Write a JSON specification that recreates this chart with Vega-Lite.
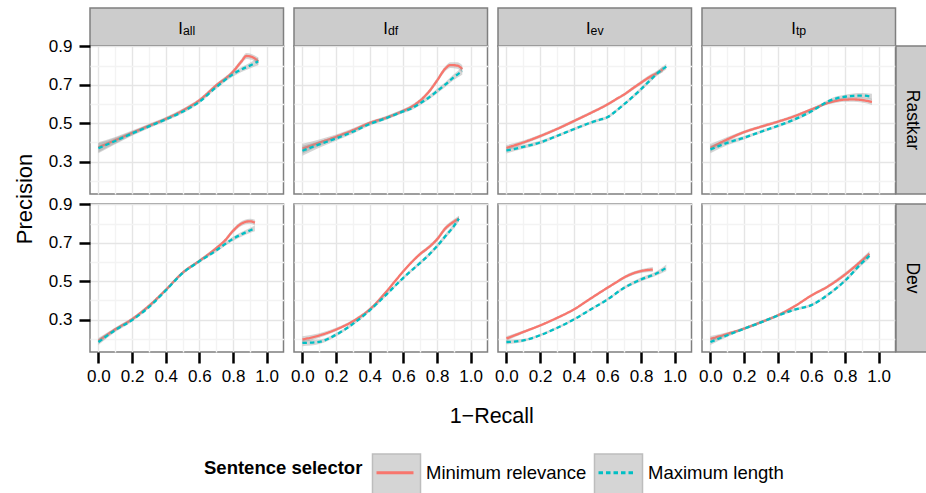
{
  "$schema": "https://vega.github.io/schema/vega-lite/v6.json",
  "padding": {"left": 10, "top": 7, "right": 0, "bottom": 0},
  "config": {
    "font": "Liberation Sans",
    "view": {"stroke": null},
    "axis": {"domain": false, "labelFont": "Liberation Sans", "labelFontSize": 17, "labelColor": "#000000", "tickColor": "#000000", "tickSize": 11, "tickWidth": 2.5, "gridWidth": 1.4, "labelOverlap": false, "labelFlush": false},
    "axisX": {"labelPadding": 5},
    "axisY": {"labelPadding": 7},
    "text": {"color": "#000000", "font": "Liberation Sans"},
    "legend": {"orient": "none", "direction": "horizontal", "titleOrient": "left", "titleAnchor": "middle", "titleBaseline": "middle", "titleFont": "Liberation Sans", "labelFont": "Liberation Sans", "titleFontSize": 18.5, "titleFontWeight": "bold", "titleColor": "#000000", "labelColor": "#000000", "labelFontSize": 18.5, "labelLimit": 400, "titleLimit": 400, "titlePadding": 12}
  },
  "datasets": {
    "R_all": [
      {"sel":"Minimum relevance","x":0,"y":0.375,"lo":0.349,"hi":0.401},
      {"sel":"Minimum relevance","x":0.1,"y":0.412,"lo":0.395,"hi":0.429},
      {"sel":"Minimum relevance","x":0.2,"y":0.450,"lo":0.438,"hi":0.462},
      {"sel":"Minimum relevance","x":0.3,"y":0.487,"lo":0.477,"hi":0.497},
      {"sel":"Minimum relevance","x":0.4,"y":0.523,"lo":0.514,"hi":0.532},
      {"sel":"Minimum relevance","x":0.5,"y":0.566,"lo":0.557,"hi":0.575},
      {"sel":"Minimum relevance","x":0.6,"y":0.620,"lo":0.611,"hi":0.629},
      {"sel":"Minimum relevance","x":0.7,"y":0.697,"lo":0.687,"hi":0.707},
      {"sel":"Minimum relevance","x":0.8,"y":0.768,"lo":0.756,"hi":0.780},
      {"sel":"Minimum relevance","x":0.85,"y":0.822,"lo":0.809,"hi":0.835},
      {"sel":"Minimum relevance","x":0.88,"y":0.850,"lo":0.835,"hi":0.865},
      {"sel":"Minimum relevance","x":0.91,"y":0.846,"lo":0.831,"hi":0.861},
      {"sel":"Minimum relevance","x":0.95,"y":0.822,"lo":0.802,"hi":0.842},
      {"sel":"Maximum length","x":0,"y":0.370,"lo":0.344,"hi":0.396},
      {"sel":"Maximum length","x":0.1,"y":0.408,"lo":0.391,"hi":0.425},
      {"sel":"Maximum length","x":0.2,"y":0.447,"lo":0.435,"hi":0.459},
      {"sel":"Maximum length","x":0.3,"y":0.484,"lo":0.474,"hi":0.494},
      {"sel":"Maximum length","x":0.4,"y":0.520,"lo":0.511,"hi":0.529},
      {"sel":"Maximum length","x":0.5,"y":0.560,"lo":0.551,"hi":0.569},
      {"sel":"Maximum length","x":0.6,"y":0.612,"lo":0.603,"hi":0.621},
      {"sel":"Maximum length","x":0.7,"y":0.688,"lo":0.678,"hi":0.698},
      {"sel":"Maximum length","x":0.8,"y":0.755,"lo":0.743,"hi":0.767},
      {"sel":"Maximum length","x":0.85,"y":0.780,"lo":0.767,"hi":0.793},
      {"sel":"Maximum length","x":0.9,"y":0.800,"lo":0.785,"hi":0.815},
      {"sel":"Maximum length","x":0.95,"y":0.822,"lo":0.802,"hi":0.842}
    ],
    "R_df": [
      {"sel":"Minimum relevance","x":0,"y":0.368,"lo":0.342,"hi":0.394},
      {"sel":"Minimum relevance","x":0.1,"y":0.399,"lo":0.382,"hi":0.416},
      {"sel":"Minimum relevance","x":0.2,"y":0.430,"lo":0.418,"hi":0.442},
      {"sel":"Minimum relevance","x":0.3,"y":0.464,"lo":0.454,"hi":0.474},
      {"sel":"Minimum relevance","x":0.4,"y":0.502,"lo":0.493,"hi":0.511},
      {"sel":"Minimum relevance","x":0.5,"y":0.530,"lo":0.521,"hi":0.539},
      {"sel":"Minimum relevance","x":0.6,"y":0.565,"lo":0.556,"hi":0.574},
      {"sel":"Minimum relevance","x":0.65,"y":0.587,"lo":0.578,"hi":0.596},
      {"sel":"Minimum relevance","x":0.7,"y":0.618,"lo":0.608,"hi":0.628},
      {"sel":"Minimum relevance","x":0.75,"y":0.662,"lo":0.651,"hi":0.673},
      {"sel":"Minimum relevance","x":0.8,"y":0.722,"lo":0.710,"hi":0.734},
      {"sel":"Minimum relevance","x":0.85,"y":0.785,"lo":0.772,"hi":0.798},
      {"sel":"Minimum relevance","x":0.88,"y":0.803,"lo":0.788,"hi":0.818},
      {"sel":"Minimum relevance","x":0.92,"y":0.800,"lo":0.783,"hi":0.817},
      {"sel":"Minimum relevance","x":0.95,"y":0.782,"lo":0.762,"hi":0.802},
      {"sel":"Maximum length","x":0,"y":0.357,"lo":0.331,"hi":0.383},
      {"sel":"Maximum length","x":0.1,"y":0.390,"lo":0.373,"hi":0.407},
      {"sel":"Maximum length","x":0.2,"y":0.421,"lo":0.409,"hi":0.433},
      {"sel":"Maximum length","x":0.3,"y":0.456,"lo":0.446,"hi":0.466},
      {"sel":"Maximum length","x":0.4,"y":0.496,"lo":0.487,"hi":0.505},
      {"sel":"Maximum length","x":0.5,"y":0.527,"lo":0.518,"hi":0.536},
      {"sel":"Maximum length","x":0.6,"y":0.562,"lo":0.553,"hi":0.571},
      {"sel":"Maximum length","x":0.65,"y":0.578,"lo":0.569,"hi":0.587},
      {"sel":"Maximum length","x":0.7,"y":0.604,"lo":0.594,"hi":0.614},
      {"sel":"Maximum length","x":0.75,"y":0.633,"lo":0.622,"hi":0.644},
      {"sel":"Maximum length","x":0.8,"y":0.667,"lo":0.655,"hi":0.679},
      {"sel":"Maximum length","x":0.85,"y":0.702,"lo":0.689,"hi":0.715},
      {"sel":"Maximum length","x":0.9,"y":0.740,"lo":0.725,"hi":0.755},
      {"sel":"Maximum length","x":0.95,"y":0.772,"lo":0.752,"hi":0.792}
    ],
    "R_ev": [
      {"sel":"Minimum relevance","x":0,"y":0.372,"lo":0.357,"hi":0.387},
      {"sel":"Minimum relevance","x":0.1,"y":0.400,"lo":0.390,"hi":0.410},
      {"sel":"Minimum relevance","x":0.2,"y":0.433,"lo":0.424,"hi":0.442},
      {"sel":"Minimum relevance","x":0.3,"y":0.470,"lo":0.462,"hi":0.478},
      {"sel":"Minimum relevance","x":0.4,"y":0.511,"lo":0.503,"hi":0.519},
      {"sel":"Minimum relevance","x":0.5,"y":0.553,"lo":0.545,"hi":0.561},
      {"sel":"Minimum relevance","x":0.6,"y":0.598,"lo":0.590,"hi":0.606},
      {"sel":"Minimum relevance","x":0.65,"y":0.624,"lo":0.616,"hi":0.632},
      {"sel":"Minimum relevance","x":0.7,"y":0.650,"lo":0.642,"hi":0.658},
      {"sel":"Minimum relevance","x":0.75,"y":0.681,"lo":0.672,"hi":0.690},
      {"sel":"Minimum relevance","x":0.8,"y":0.711,"lo":0.701,"hi":0.721},
      {"sel":"Minimum relevance","x":0.85,"y":0.740,"lo":0.729,"hi":0.751},
      {"sel":"Minimum relevance","x":0.9,"y":0.764,"lo":0.752,"hi":0.776},
      {"sel":"Minimum relevance","x":0.93,"y":0.780,"lo":0.765,"hi":0.795},
      {"sel":"Maximum length","x":0,"y":0.358,"lo":0.343,"hi":0.373},
      {"sel":"Maximum length","x":0.1,"y":0.377,"lo":0.367,"hi":0.387},
      {"sel":"Maximum length","x":0.2,"y":0.400,"lo":0.391,"hi":0.409},
      {"sel":"Maximum length","x":0.3,"y":0.434,"lo":0.426,"hi":0.442},
      {"sel":"Maximum length","x":0.4,"y":0.469,"lo":0.461,"hi":0.477},
      {"sel":"Maximum length","x":0.5,"y":0.503,"lo":0.495,"hi":0.511},
      {"sel":"Maximum length","x":0.55,"y":0.517,"lo":0.509,"hi":0.525},
      {"sel":"Maximum length","x":0.6,"y":0.531,"lo":0.523,"hi":0.539},
      {"sel":"Maximum length","x":0.65,"y":0.563,"lo":0.555,"hi":0.571},
      {"sel":"Maximum length","x":0.7,"y":0.599,"lo":0.591,"hi":0.607},
      {"sel":"Maximum length","x":0.75,"y":0.637,"lo":0.628,"hi":0.646},
      {"sel":"Maximum length","x":0.8,"y":0.677,"lo":0.667,"hi":0.687},
      {"sel":"Maximum length","x":0.85,"y":0.720,"lo":0.709,"hi":0.731},
      {"sel":"Maximum length","x":0.9,"y":0.762,"lo":0.750,"hi":0.774},
      {"sel":"Maximum length","x":0.95,"y":0.795,"lo":0.780,"hi":0.810}
    ],
    "R_tp": [
      {"sel":"Minimum relevance","x":0,"y":0.372,"lo":0.352,"hi":0.392},
      {"sel":"Minimum relevance","x":0.1,"y":0.416,"lo":0.404,"hi":0.428},
      {"sel":"Minimum relevance","x":0.2,"y":0.454,"lo":0.445,"hi":0.463},
      {"sel":"Minimum relevance","x":0.3,"y":0.482,"lo":0.474,"hi":0.490},
      {"sel":"Minimum relevance","x":0.4,"y":0.508,"lo":0.500,"hi":0.516},
      {"sel":"Minimum relevance","x":0.5,"y":0.537,"lo":0.529,"hi":0.545},
      {"sel":"Minimum relevance","x":0.6,"y":0.572,"lo":0.564,"hi":0.580},
      {"sel":"Minimum relevance","x":0.7,"y":0.606,"lo":0.597,"hi":0.615},
      {"sel":"Minimum relevance","x":0.75,"y":0.617,"lo":0.607,"hi":0.627},
      {"sel":"Minimum relevance","x":0.8,"y":0.623,"lo":0.612,"hi":0.634},
      {"sel":"Minimum relevance","x":0.85,"y":0.624,"lo":0.612,"hi":0.636},
      {"sel":"Minimum relevance","x":0.9,"y":0.621,"lo":0.608,"hi":0.634},
      {"sel":"Minimum relevance","x":0.96,"y":0.611,"lo":0.595,"hi":0.627},
      {"sel":"Maximum length","x":0,"y":0.364,"lo":0.344,"hi":0.384},
      {"sel":"Maximum length","x":0.1,"y":0.398,"lo":0.386,"hi":0.410},
      {"sel":"Maximum length","x":0.2,"y":0.425,"lo":0.416,"hi":0.434},
      {"sel":"Maximum length","x":0.3,"y":0.456,"lo":0.448,"hi":0.464},
      {"sel":"Maximum length","x":0.4,"y":0.486,"lo":0.478,"hi":0.494},
      {"sel":"Maximum length","x":0.5,"y":0.520,"lo":0.512,"hi":0.528},
      {"sel":"Maximum length","x":0.6,"y":0.562,"lo":0.554,"hi":0.570},
      {"sel":"Maximum length","x":0.7,"y":0.614,"lo":0.605,"hi":0.623},
      {"sel":"Maximum length","x":0.75,"y":0.630,"lo":0.620,"hi":0.640},
      {"sel":"Maximum length","x":0.8,"y":0.638,"lo":0.627,"hi":0.649},
      {"sel":"Maximum length","x":0.85,"y":0.643,"lo":0.631,"hi":0.655},
      {"sel":"Maximum length","x":0.9,"y":0.644,"lo":0.631,"hi":0.657},
      {"sel":"Maximum length","x":0.96,"y":0.638,"lo":0.622,"hi":0.654}
    ],
    "D_all": [
      {"sel":"Minimum relevance","x":0,"y":0.190,"lo":0.175,"hi":0.205},
      {"sel":"Minimum relevance","x":0.1,"y":0.250,"lo":0.240,"hi":0.260},
      {"sel":"Minimum relevance","x":0.2,"y":0.303,"lo":0.295,"hi":0.311},
      {"sel":"Minimum relevance","x":0.3,"y":0.372,"lo":0.364,"hi":0.380},
      {"sel":"Minimum relevance","x":0.4,"y":0.455,"lo":0.447,"hi":0.463},
      {"sel":"Minimum relevance","x":0.5,"y":0.544,"lo":0.536,"hi":0.552},
      {"sel":"Minimum relevance","x":0.6,"y":0.606,"lo":0.598,"hi":0.614},
      {"sel":"Minimum relevance","x":0.7,"y":0.672,"lo":0.663,"hi":0.681},
      {"sel":"Minimum relevance","x":0.75,"y":0.710,"lo":0.700,"hi":0.720},
      {"sel":"Minimum relevance","x":0.8,"y":0.762,"lo":0.751,"hi":0.773},
      {"sel":"Minimum relevance","x":0.85,"y":0.800,"lo":0.788,"hi":0.812},
      {"sel":"Minimum relevance","x":0.9,"y":0.812,"lo":0.799,"hi":0.825},
      {"sel":"Minimum relevance","x":0.93,"y":0.805,"lo":0.790,"hi":0.820},
      {"sel":"Maximum length","x":0,"y":0.184,"lo":0.169,"hi":0.199},
      {"sel":"Maximum length","x":0.1,"y":0.246,"lo":0.236,"hi":0.256},
      {"sel":"Maximum length","x":0.2,"y":0.298,"lo":0.290,"hi":0.306},
      {"sel":"Maximum length","x":0.3,"y":0.366,"lo":0.358,"hi":0.374},
      {"sel":"Maximum length","x":0.4,"y":0.452,"lo":0.444,"hi":0.460},
      {"sel":"Maximum length","x":0.5,"y":0.542,"lo":0.534,"hi":0.550},
      {"sel":"Maximum length","x":0.6,"y":0.604,"lo":0.596,"hi":0.612},
      {"sel":"Maximum length","x":0.7,"y":0.660,"lo":0.651,"hi":0.669},
      {"sel":"Maximum length","x":0.75,"y":0.692,"lo":0.682,"hi":0.702},
      {"sel":"Maximum length","x":0.8,"y":0.721,"lo":0.710,"hi":0.732},
      {"sel":"Maximum length","x":0.85,"y":0.744,"lo":0.732,"hi":0.756},
      {"sel":"Maximum length","x":0.9,"y":0.764,"lo":0.751,"hi":0.777},
      {"sel":"Maximum length","x":0.93,"y":0.775,"lo":0.760,"hi":0.790}
    ],
    "D_df": [
      {"sel":"Minimum relevance","x":0,"y":0.197,"lo":0.180,"hi":0.214},
      {"sel":"Minimum relevance","x":0.1,"y":0.218,"lo":0.206,"hi":0.230},
      {"sel":"Minimum relevance","x":0.2,"y":0.249,"lo":0.240,"hi":0.258},
      {"sel":"Minimum relevance","x":0.3,"y":0.292,"lo":0.284,"hi":0.300},
      {"sel":"Minimum relevance","x":0.4,"y":0.354,"lo":0.346,"hi":0.362},
      {"sel":"Minimum relevance","x":0.5,"y":0.447,"lo":0.439,"hi":0.455},
      {"sel":"Minimum relevance","x":0.55,"y":0.500,"lo":0.492,"hi":0.508},
      {"sel":"Minimum relevance","x":0.6,"y":0.552,"lo":0.544,"hi":0.560},
      {"sel":"Minimum relevance","x":0.65,"y":0.600,"lo":0.592,"hi":0.608},
      {"sel":"Minimum relevance","x":0.7,"y":0.642,"lo":0.633,"hi":0.651},
      {"sel":"Minimum relevance","x":0.75,"y":0.676,"lo":0.666,"hi":0.686},
      {"sel":"Minimum relevance","x":0.8,"y":0.718,"lo":0.707,"hi":0.729},
      {"sel":"Minimum relevance","x":0.85,"y":0.775,"lo":0.763,"hi":0.787},
      {"sel":"Minimum relevance","x":0.9,"y":0.810,"lo":0.797,"hi":0.823},
      {"sel":"Minimum relevance","x":0.93,"y":0.826,"lo":0.811,"hi":0.841},
      {"sel":"Maximum length","x":0,"y":0.179,"lo":0.162,"hi":0.196},
      {"sel":"Maximum length","x":0.1,"y":0.185,"lo":0.173,"hi":0.197},
      {"sel":"Maximum length","x":0.2,"y":0.222,"lo":0.213,"hi":0.231},
      {"sel":"Maximum length","x":0.3,"y":0.278,"lo":0.270,"hi":0.286},
      {"sel":"Maximum length","x":0.4,"y":0.349,"lo":0.341,"hi":0.357},
      {"sel":"Maximum length","x":0.5,"y":0.432,"lo":0.424,"hi":0.440},
      {"sel":"Maximum length","x":0.6,"y":0.518,"lo":0.510,"hi":0.526},
      {"sel":"Maximum length","x":0.7,"y":0.596,"lo":0.587,"hi":0.605},
      {"sel":"Maximum length","x":0.75,"y":0.636,"lo":0.626,"hi":0.646},
      {"sel":"Maximum length","x":0.8,"y":0.683,"lo":0.672,"hi":0.694},
      {"sel":"Maximum length","x":0.85,"y":0.735,"lo":0.723,"hi":0.747},
      {"sel":"Maximum length","x":0.9,"y":0.787,"lo":0.774,"hi":0.800},
      {"sel":"Maximum length","x":0.93,"y":0.826,"lo":0.811,"hi":0.841}
    ],
    "D_ev": [
      {"sel":"Minimum relevance","x":0,"y":0.202,"lo":0.190,"hi":0.214},
      {"sel":"Minimum relevance","x":0.1,"y":0.236,"lo":0.228,"hi":0.244},
      {"sel":"Minimum relevance","x":0.2,"y":0.270,"lo":0.263,"hi":0.277},
      {"sel":"Minimum relevance","x":0.3,"y":0.309,"lo":0.302,"hi":0.316},
      {"sel":"Minimum relevance","x":0.4,"y":0.353,"lo":0.346,"hi":0.360},
      {"sel":"Minimum relevance","x":0.5,"y":0.410,"lo":0.403,"hi":0.417},
      {"sel":"Minimum relevance","x":0.6,"y":0.466,"lo":0.459,"hi":0.473},
      {"sel":"Minimum relevance","x":0.65,"y":0.493,"lo":0.486,"hi":0.500},
      {"sel":"Minimum relevance","x":0.7,"y":0.520,"lo":0.512,"hi":0.528},
      {"sel":"Minimum relevance","x":0.75,"y":0.540,"lo":0.531,"hi":0.549},
      {"sel":"Minimum relevance","x":0.8,"y":0.553,"lo":0.543,"hi":0.563},
      {"sel":"Minimum relevance","x":0.87,"y":0.561,"lo":0.548,"hi":0.574},
      {"sel":"Maximum length","x":0,"y":0.184,"lo":0.172,"hi":0.196},
      {"sel":"Maximum length","x":0.1,"y":0.192,"lo":0.184,"hi":0.200},
      {"sel":"Maximum length","x":0.2,"y":0.219,"lo":0.212,"hi":0.226},
      {"sel":"Maximum length","x":0.3,"y":0.257,"lo":0.250,"hi":0.264},
      {"sel":"Maximum length","x":0.4,"y":0.301,"lo":0.294,"hi":0.308},
      {"sel":"Maximum length","x":0.5,"y":0.353,"lo":0.346,"hi":0.360},
      {"sel":"Maximum length","x":0.6,"y":0.405,"lo":0.398,"hi":0.412},
      {"sel":"Maximum length","x":0.7,"y":0.466,"lo":0.458,"hi":0.474},
      {"sel":"Maximum length","x":0.8,"y":0.509,"lo":0.499,"hi":0.519},
      {"sel":"Maximum length","x":0.9,"y":0.544,"lo":0.532,"hi":0.556},
      {"sel":"Maximum length","x":0.95,"y":0.570,"lo":0.553,"hi":0.587}
    ],
    "D_tp": [
      {"sel":"Minimum relevance","x":0,"y":0.200,"lo":0.185,"hi":0.215},
      {"sel":"Minimum relevance","x":0.1,"y":0.226,"lo":0.217,"hi":0.235},
      {"sel":"Minimum relevance","x":0.2,"y":0.254,"lo":0.247,"hi":0.261},
      {"sel":"Minimum relevance","x":0.3,"y":0.287,"lo":0.280,"hi":0.294},
      {"sel":"Minimum relevance","x":0.4,"y":0.323,"lo":0.316,"hi":0.330},
      {"sel":"Minimum relevance","x":0.5,"y":0.370,"lo":0.363,"hi":0.377},
      {"sel":"Minimum relevance","x":0.6,"y":0.426,"lo":0.419,"hi":0.433},
      {"sel":"Minimum relevance","x":0.7,"y":0.474,"lo":0.466,"hi":0.482},
      {"sel":"Minimum relevance","x":0.8,"y":0.535,"lo":0.525,"hi":0.545},
      {"sel":"Minimum relevance","x":0.9,"y":0.608,"lo":0.596,"hi":0.620},
      {"sel":"Minimum relevance","x":0.945,"y":0.643,"lo":0.628,"hi":0.658},
      {"sel":"Maximum length","x":0,"y":0.184,"lo":0.169,"hi":0.199},
      {"sel":"Maximum length","x":0.1,"y":0.219,"lo":0.210,"hi":0.228},
      {"sel":"Maximum length","x":0.2,"y":0.253,"lo":0.246,"hi":0.260},
      {"sel":"Maximum length","x":0.3,"y":0.286,"lo":0.279,"hi":0.293},
      {"sel":"Maximum length","x":0.4,"y":0.321,"lo":0.314,"hi":0.328},
      {"sel":"Maximum length","x":0.5,"y":0.352,"lo":0.345,"hi":0.359},
      {"sel":"Maximum length","x":0.6,"y":0.376,"lo":0.369,"hi":0.383},
      {"sel":"Maximum length","x":0.7,"y":0.431,"lo":0.423,"hi":0.439},
      {"sel":"Maximum length","x":0.8,"y":0.503,"lo":0.493,"hi":0.513},
      {"sel":"Maximum length","x":0.9,"y":0.595,"lo":0.583,"hi":0.607},
      {"sel":"Maximum length","x":0.945,"y":0.632,"lo":0.617,"hi":0.647}
    ]
  },
  "vconcat": [
    {
      "columns": 10, "spacing": 0, "bounds": "flush", "align": "each",
      "concat": [
        {"width": 30, "height": 1, "data": {"values": []}, "mark": "point", "encoding": {}},
        {"width": 50, "height": 1, "data": {"values": []}, "mark": "point", "encoding": {}},
        {"width": 193.5, "height": 38, "view": {"fill": "#CCCCCC", "stroke": "#7F7F7F", "strokeWidth": 1.5}, "data": {"values": [{"main": "I", "sub": "all"}]},
         "layer": [
          {"mark": {"type": "text", "align": "left", "baseline": "alphabetic", "dx": -8.4, "dy": 7.3, "fontSize": 16.5}, "encoding": {"text": {"field": "main"}}},
          {"mark": {"type": "text", "align": "left", "baseline": "alphabetic", "dx": -3.8, "dy": 8.3, "fontSize": 12.3}, "encoding": {"text": {"field": "sub"}}}
         ]},
        {"width": 10, "height": 1, "data": {"values": []}, "mark": "point", "encoding": {}},
        {"width": 193.5, "height": 38, "view": {"fill": "#CCCCCC", "stroke": "#7F7F7F", "strokeWidth": 1.5}, "data": {"values": [{"main": "I", "sub": "df"}]},
         "layer": [
          {"mark": {"type": "text", "align": "left", "baseline": "alphabetic", "dx": -7.4, "dy": 7.3, "fontSize": 16.5}, "encoding": {"text": {"field": "main"}}},
          {"mark": {"type": "text", "align": "left", "baseline": "alphabetic", "dx": -2.8, "dy": 8.3, "fontSize": 12.3}, "encoding": {"text": {"field": "sub"}}}
         ]},
        {"width": 10, "height": 1, "data": {"values": []}, "mark": "point", "encoding": {}},
        {"width": 193.5, "height": 38, "view": {"fill": "#CCCCCC", "stroke": "#7F7F7F", "strokeWidth": 1.5}, "data": {"values": [{"main": "I", "sub": "ev"}]},
         "layer": [
          {"mark": {"type": "text", "align": "left", "baseline": "alphabetic", "dx": -8.8, "dy": 7.3, "fontSize": 16.5}, "encoding": {"text": {"field": "main"}}},
          {"mark": {"type": "text", "align": "left", "baseline": "alphabetic", "dx": -4.2, "dy": 8.3, "fontSize": 12.3}, "encoding": {"text": {"field": "sub"}}}
         ]},
        {"width": 10, "height": 1, "data": {"values": []}, "mark": "point", "encoding": {}},
        {"width": 193.5, "height": 38, "view": {"fill": "#CCCCCC", "stroke": "#7F7F7F", "strokeWidth": 1.5}, "data": {"values": [{"main": "I", "sub": "tp"}]},
         "layer": [
          {"mark": {"type": "text", "align": "left", "baseline": "alphabetic", "dx": -7.4, "dy": 7.3, "fontSize": 16.5}, "encoding": {"text": {"field": "main"}}},
          {"mark": {"type": "text", "align": "left", "baseline": "alphabetic", "dx": -2.8, "dy": 8.3, "fontSize": 12.3}, "encoding": {"text": {"field": "sub"}}}
         ]},
        {"width": 1, "height": 1, "data": {"values": []}, "mark": "point", "encoding": {}},

        {"width": 1, "height": 1, "data": {"values": []}, "mark": "point", "encoding": {}},
        {"width": 1, "height": 1, "data": {"values": []}, "mark": "point", "encoding": {}},
        {"width": 193.5, "height": 148, "view": {"stroke": "#7F7F7F", "strokeWidth": 1.5}, "data": {"name": "R_all"},
         "encoding": {
          "x": {"field": "x", "type": "quantitative", "scale": {"domain": [-0.05, 1.1], "nice": false, "zero": false}, "axis": {"title": null, "values": [0,0.1,0.2,0.3,0.4,0.5,0.6,0.7,0.8,0.9,1], "labels": false, "ticks": false, "gridColor": {"condition": {"test": "round(datum.value*10)%2==0", "value": "#E5E5E5"}, "value": "#F3F3F3"}}},
          "y": {"field": "y", "type": "quantitative", "scale": {"domain": [0.132, 0.902], "nice": false, "zero": false}, "axis": {"title": null, "values": [0.2,0.3,0.4,0.5,0.6,0.7,0.8,0.9], "labelExpr": "round(datum.value*10)%2==1 ? format(datum.value,'.1f') : ''", "tickOpacity": {"condition": {"test": "round(datum.value*10)%2==1", "value": 1}, "value": 0}, "gridColor": {"condition": {"test": "round(datum.value*10)%2==1", "value": "#E5E5E5"}, "value": "#F3F3F3"}}}
         },
         "layer": [
          {"transform": [{"filter": "datum.sel=='Minimum relevance'"}], "mark": {"type": "area", "opacity": 0.4, "interpolate": "monotone"}, "encoding": {"y": {"field": "lo", "type": "quantitative", "scale": {"domain": [0.132, 0.902], "nice": false, "zero": false}}, "y2": {"field": "hi"},
            "fill": {"field": "sel", "type": "nominal", "scale": {"domain": ["Maximum length", "Minimum relevance"], "range": ["#999999", "#999999"]},
              "legend": {"title": null, "legendX": 365.5, "legendY": 445, "symbolType": "M-1.2,-1H1.2V1H-1.2Z", "symbolSize": 1600, "symbolOpacity": 0.4, "symbolStrokeColor": "#5D5D5D", "symbolStrokeWidth": 1.5, "labelExpr": "''", "labelOffset": 0, "columnPadding": 168}}}},
          {"transform": [{"filter": "datum.sel=='Minimum relevance'"}], "mark": {"type": "line", "strokeWidth": 2.3, "interpolate": "monotone"}, "encoding": {
            "stroke": {"field": "sel", "type": "nominal", "title": "Sentence selector", "scale": {"domain": ["Minimum relevance", "Maximum length"], "range": ["#F8766D", "#00BFC4"]},
              "legend": {"legendX": 194, "legendY": 444.5, "symbolType": "stroke", "symbolSize": 1369, "symbolStrokeWidth": 3, "labelOffset": 11, "columnPadding": 5}},
            "strokeDash": {"field": "sel", "type": "nominal", "title": "Sentence selector", "scale": {"domain": ["Minimum relevance", "Maximum length"], "range": [[1, 0], [4.5, 3]]}}}},
          {"transform": [{"filter": "datum.sel=='Maximum length'"}], "mark": {"type": "area", "opacity": 0.4, "interpolate": "monotone"}, "encoding": {"y": {"field": "lo", "type": "quantitative", "scale": {"domain": [0.132, 0.902], "nice": false, "zero": false}}, "y2": {"field": "hi"}, "fill": {"field": "sel", "type": "nominal", "scale": {"domain": ["Maximum length", "Minimum relevance"], "range": ["#999999", "#999999"]}}}},
          {"transform": [{"filter": "datum.sel=='Maximum length'"}], "mark": {"type": "line", "strokeWidth": 2.3, "interpolate": "monotone"}, "encoding": {"stroke": {"field": "sel", "type": "nominal", "title": "Sentence selector", "scale": {"domain": ["Minimum relevance", "Maximum length"], "range": ["#F8766D", "#00BFC4"]}}, "strokeDash": {"field": "sel", "type": "nominal", "title": "Sentence selector", "scale": {"domain": ["Minimum relevance", "Maximum length"], "range": [[1, 0], [4.5, 3]]}}}}
         ]},
        {"width": 1, "height": 1, "data": {"values": []}, "mark": "point", "encoding": {}},
        {"width": 193.5, "height": 148, "view": {"stroke": "#7F7F7F", "strokeWidth": 1.5}, "data": {"name": "R_df"},
         "encoding": {
          "x": {"field": "x", "type": "quantitative", "scale": {"domain": [-0.05, 1.1], "nice": false, "zero": false}, "axis": {"title": null, "values": [0,0.1,0.2,0.3,0.4,0.5,0.6,0.7,0.8,0.9,1], "labels": false, "ticks": false, "gridColor": {"condition": {"test": "round(datum.value*10)%2==0", "value": "#E5E5E5"}, "value": "#F3F3F3"}}},
          "y": {"field": "y", "type": "quantitative", "scale": {"domain": [0.132, 0.902], "nice": false, "zero": false}, "axis": {"title": null, "values": [0.2,0.3,0.4,0.5,0.6,0.7,0.8,0.9], "labels": false, "ticks": false, "gridColor": {"condition": {"test": "round(datum.value*10)%2==1", "value": "#E5E5E5"}, "value": "#F3F3F3"}}}
         },
         "layer": [
          {"transform": [{"filter": "datum.sel=='Minimum relevance'"}], "mark": {"type": "area", "opacity": 0.4, "interpolate": "monotone"}, "encoding": {"y": {"field": "lo", "type": "quantitative", "scale": {"domain": [0.132, 0.902], "nice": false, "zero": false}}, "y2": {"field": "hi"}, "fill": {"field": "sel", "type": "nominal", "scale": {"domain": ["Maximum length", "Minimum relevance"], "range": ["#999999", "#999999"]}}}},
          {"transform": [{"filter": "datum.sel=='Minimum relevance'"}], "mark": {"type": "line", "strokeWidth": 2.3, "interpolate": "monotone"}, "encoding": {"stroke": {"field": "sel", "type": "nominal", "title": "Sentence selector", "scale": {"domain": ["Minimum relevance", "Maximum length"], "range": ["#F8766D", "#00BFC4"]}}, "strokeDash": {"field": "sel", "type": "nominal", "title": "Sentence selector", "scale": {"domain": ["Minimum relevance", "Maximum length"], "range": [[1, 0], [4.5, 3]]}}}},
          {"transform": [{"filter": "datum.sel=='Maximum length'"}], "mark": {"type": "area", "opacity": 0.4, "interpolate": "monotone"}, "encoding": {"y": {"field": "lo", "type": "quantitative", "scale": {"domain": [0.132, 0.902], "nice": false, "zero": false}}, "y2": {"field": "hi"}, "fill": {"field": "sel", "type": "nominal", "scale": {"domain": ["Maximum length", "Minimum relevance"], "range": ["#999999", "#999999"]}}}},
          {"transform": [{"filter": "datum.sel=='Maximum length'"}], "mark": {"type": "line", "strokeWidth": 2.3, "interpolate": "monotone"}, "encoding": {"stroke": {"field": "sel", "type": "nominal", "title": "Sentence selector", "scale": {"domain": ["Minimum relevance", "Maximum length"], "range": ["#F8766D", "#00BFC4"]}}, "strokeDash": {"field": "sel", "type": "nominal", "title": "Sentence selector", "scale": {"domain": ["Minimum relevance", "Maximum length"], "range": [[1, 0], [4.5, 3]]}}}}
         ]},
        {"width": 1, "height": 1, "data": {"values": []}, "mark": "point", "encoding": {}},
        {"width": 193.5, "height": 148, "view": {"stroke": "#7F7F7F", "strokeWidth": 1.5}, "data": {"name": "R_ev"},
         "encoding": {
          "x": {"field": "x", "type": "quantitative", "scale": {"domain": [-0.05, 1.1], "nice": false, "zero": false}, "axis": {"title": null, "values": [0,0.1,0.2,0.3,0.4,0.5,0.6,0.7,0.8,0.9,1], "labels": false, "ticks": false, "gridColor": {"condition": {"test": "round(datum.value*10)%2==0", "value": "#E5E5E5"}, "value": "#F3F3F3"}}},
          "y": {"field": "y", "type": "quantitative", "scale": {"domain": [0.132, 0.902], "nice": false, "zero": false}, "axis": {"title": null, "values": [0.2,0.3,0.4,0.5,0.6,0.7,0.8,0.9], "labels": false, "ticks": false, "gridColor": {"condition": {"test": "round(datum.value*10)%2==1", "value": "#E5E5E5"}, "value": "#F3F3F3"}}}
         },
         "layer": [
          {"transform": [{"filter": "datum.sel=='Minimum relevance'"}], "mark": {"type": "area", "opacity": 0.4, "interpolate": "monotone"}, "encoding": {"y": {"field": "lo", "type": "quantitative", "scale": {"domain": [0.132, 0.902], "nice": false, "zero": false}}, "y2": {"field": "hi"}, "fill": {"field": "sel", "type": "nominal", "scale": {"domain": ["Maximum length", "Minimum relevance"], "range": ["#999999", "#999999"]}}}},
          {"transform": [{"filter": "datum.sel=='Minimum relevance'"}], "mark": {"type": "line", "strokeWidth": 2.3, "interpolate": "monotone"}, "encoding": {"stroke": {"field": "sel", "type": "nominal", "title": "Sentence selector", "scale": {"domain": ["Minimum relevance", "Maximum length"], "range": ["#F8766D", "#00BFC4"]}}, "strokeDash": {"field": "sel", "type": "nominal", "title": "Sentence selector", "scale": {"domain": ["Minimum relevance", "Maximum length"], "range": [[1, 0], [4.5, 3]]}}}},
          {"transform": [{"filter": "datum.sel=='Maximum length'"}], "mark": {"type": "area", "opacity": 0.4, "interpolate": "monotone"}, "encoding": {"y": {"field": "lo", "type": "quantitative", "scale": {"domain": [0.132, 0.902], "nice": false, "zero": false}}, "y2": {"field": "hi"}, "fill": {"field": "sel", "type": "nominal", "scale": {"domain": ["Maximum length", "Minimum relevance"], "range": ["#999999", "#999999"]}}}},
          {"transform": [{"filter": "datum.sel=='Maximum length'"}], "mark": {"type": "line", "strokeWidth": 2.3, "interpolate": "monotone"}, "encoding": {"stroke": {"field": "sel", "type": "nominal", "title": "Sentence selector", "scale": {"domain": ["Minimum relevance", "Maximum length"], "range": ["#F8766D", "#00BFC4"]}}, "strokeDash": {"field": "sel", "type": "nominal", "title": "Sentence selector", "scale": {"domain": ["Minimum relevance", "Maximum length"], "range": [[1, 0], [4.5, 3]]}}}}
         ]},
        {"width": 1, "height": 1, "data": {"values": []}, "mark": "point", "encoding": {}},
        {"width": 193.5, "height": 148, "view": {"stroke": "#7F7F7F", "strokeWidth": 1.5}, "data": {"name": "R_tp"},
         "encoding": {
          "x": {"field": "x", "type": "quantitative", "scale": {"domain": [-0.05, 1.1], "nice": false, "zero": false}, "axis": {"title": null, "values": [0,0.1,0.2,0.3,0.4,0.5,0.6,0.7,0.8,0.9,1], "labels": false, "ticks": false, "gridColor": {"condition": {"test": "round(datum.value*10)%2==0", "value": "#E5E5E5"}, "value": "#F3F3F3"}}},
          "y": {"field": "y", "type": "quantitative", "scale": {"domain": [0.132, 0.902], "nice": false, "zero": false}, "axis": {"title": null, "values": [0.2,0.3,0.4,0.5,0.6,0.7,0.8,0.9], "labels": false, "ticks": false, "gridColor": {"condition": {"test": "round(datum.value*10)%2==1", "value": "#E5E5E5"}, "value": "#F3F3F3"}}}
         },
         "layer": [
          {"transform": [{"filter": "datum.sel=='Minimum relevance'"}], "mark": {"type": "area", "opacity": 0.4, "interpolate": "monotone"}, "encoding": {"y": {"field": "lo", "type": "quantitative", "scale": {"domain": [0.132, 0.902], "nice": false, "zero": false}}, "y2": {"field": "hi"}, "fill": {"field": "sel", "type": "nominal", "scale": {"domain": ["Maximum length", "Minimum relevance"], "range": ["#999999", "#999999"]}}}},
          {"transform": [{"filter": "datum.sel=='Minimum relevance'"}], "mark": {"type": "line", "strokeWidth": 2.3, "interpolate": "monotone"}, "encoding": {"stroke": {"field": "sel", "type": "nominal", "title": "Sentence selector", "scale": {"domain": ["Minimum relevance", "Maximum length"], "range": ["#F8766D", "#00BFC4"]}}, "strokeDash": {"field": "sel", "type": "nominal", "title": "Sentence selector", "scale": {"domain": ["Minimum relevance", "Maximum length"], "range": [[1, 0], [4.5, 3]]}}}},
          {"transform": [{"filter": "datum.sel=='Maximum length'"}], "mark": {"type": "area", "opacity": 0.4, "interpolate": "monotone"}, "encoding": {"y": {"field": "lo", "type": "quantitative", "scale": {"domain": [0.132, 0.902], "nice": false, "zero": false}}, "y2": {"field": "hi"}, "fill": {"field": "sel", "type": "nominal", "scale": {"domain": ["Maximum length", "Minimum relevance"], "range": ["#999999", "#999999"]}}}},
          {"transform": [{"filter": "datum.sel=='Maximum length'"}], "mark": {"type": "line", "strokeWidth": 2.3, "interpolate": "monotone"}, "encoding": {"stroke": {"field": "sel", "type": "nominal", "title": "Sentence selector", "scale": {"domain": ["Minimum relevance", "Maximum length"], "range": ["#F8766D", "#00BFC4"]}}, "strokeDash": {"field": "sel", "type": "nominal", "title": "Sentence selector", "scale": {"domain": ["Minimum relevance", "Maximum length"], "range": [[1, 0], [4.5, 3]]}}}}
         ]},
        {"width": 31, "height": 148, "view": {"fill": "#CCCCCC", "stroke": "#7F7F7F", "strokeWidth": 1.5}, "data": {"values": [{"label": "Rastkar"}]},
         "mark": {"type": "text", "angle": 90, "baseline": "middle", "fontSize": 17.5}, "encoding": {"text": {"field": "label"}}},

        {"width": 30, "height": 10, "data": {"values": [{"label": "Precision"}]},
         "mark": {"type": "text", "angle": 270, "baseline": "middle", "fontSize": 22}, "encoding": {"text": {"field": "label"}}},
        {"width": 1, "height": 1, "data": {"values": []}, "mark": "point", "encoding": {}},
        {"width": 1, "height": 1, "data": {"values": []}, "mark": "point", "encoding": {}},
        {"width": 1, "height": 1, "data": {"values": []}, "mark": "point", "encoding": {}},
        {"width": 1, "height": 1, "data": {"values": []}, "mark": "point", "encoding": {}},
        {"width": 1, "height": 1, "data": {"values": []}, "mark": "point", "encoding": {}},
        {"width": 1, "height": 1, "data": {"values": []}, "mark": "point", "encoding": {}},
        {"width": 1, "height": 1, "data": {"values": []}, "mark": "point", "encoding": {}},
        {"width": 1, "height": 1, "data": {"values": []}, "mark": "point", "encoding": {}},
        {"width": 1, "height": 1, "data": {"values": []}, "mark": "point", "encoding": {}},

        {"width": 1, "height": 1, "data": {"values": []}, "mark": "point", "encoding": {}},
        {"width": 1, "height": 1, "data": {"values": []}, "mark": "point", "encoding": {}},
        {"width": 193.5, "height": 148, "view": {"stroke": "#7F7F7F", "strokeWidth": 1.5}, "data": {"name": "D_all"},
         "encoding": {
          "x": {"field": "x", "type": "quantitative", "scale": {"domain": [-0.05, 1.1], "nice": false, "zero": false}, "axis": {"title": null, "values": [0,0.1,0.2,0.3,0.4,0.5,0.6,0.7,0.8,0.9,1], "labelExpr": "round(datum.value*10)%2==0 ? format(datum.value,'.1f') : ''", "tickOpacity": {"condition": {"test": "round(datum.value*10)%2==0", "value": 1}, "value": 0}, "gridColor": {"condition": {"test": "round(datum.value*10)%2==0", "value": "#E5E5E5"}, "value": "#F3F3F3"}}},
          "y": {"field": "y", "type": "quantitative", "scale": {"domain": [0.132, 0.902], "nice": false, "zero": false}, "axis": {"title": null, "values": [0.2,0.3,0.4,0.5,0.6,0.7,0.8,0.9], "labelExpr": "round(datum.value*10)%2==1 ? format(datum.value,'.1f') : ''", "tickOpacity": {"condition": {"test": "round(datum.value*10)%2==1", "value": 1}, "value": 0}, "gridColor": {"condition": {"test": "round(datum.value*10)%2==1", "value": "#E5E5E5"}, "value": "#F3F3F3"}}}
         },
         "layer": [
          {"transform": [{"filter": "datum.sel=='Minimum relevance'"}], "mark": {"type": "area", "opacity": 0.4, "interpolate": "monotone"}, "encoding": {"y": {"field": "lo", "type": "quantitative", "scale": {"domain": [0.132, 0.902], "nice": false, "zero": false}}, "y2": {"field": "hi"}, "fill": {"field": "sel", "type": "nominal", "scale": {"domain": ["Maximum length", "Minimum relevance"], "range": ["#999999", "#999999"]}}}},
          {"transform": [{"filter": "datum.sel=='Minimum relevance'"}], "mark": {"type": "line", "strokeWidth": 2.3, "interpolate": "monotone"}, "encoding": {"stroke": {"field": "sel", "type": "nominal", "title": "Sentence selector", "scale": {"domain": ["Minimum relevance", "Maximum length"], "range": ["#F8766D", "#00BFC4"]}}, "strokeDash": {"field": "sel", "type": "nominal", "title": "Sentence selector", "scale": {"domain": ["Minimum relevance", "Maximum length"], "range": [[1, 0], [4.5, 3]]}}}},
          {"transform": [{"filter": "datum.sel=='Maximum length'"}], "mark": {"type": "area", "opacity": 0.4, "interpolate": "monotone"}, "encoding": {"y": {"field": "lo", "type": "quantitative", "scale": {"domain": [0.132, 0.902], "nice": false, "zero": false}}, "y2": {"field": "hi"}, "fill": {"field": "sel", "type": "nominal", "scale": {"domain": ["Maximum length", "Minimum relevance"], "range": ["#999999", "#999999"]}}}},
          {"transform": [{"filter": "datum.sel=='Maximum length'"}], "mark": {"type": "line", "strokeWidth": 2.3, "interpolate": "monotone"}, "encoding": {"stroke": {"field": "sel", "type": "nominal", "title": "Sentence selector", "scale": {"domain": ["Minimum relevance", "Maximum length"], "range": ["#F8766D", "#00BFC4"]}}, "strokeDash": {"field": "sel", "type": "nominal", "title": "Sentence selector", "scale": {"domain": ["Minimum relevance", "Maximum length"], "range": [[1, 0], [4.5, 3]]}}}}
         ]},
        {"width": 1, "height": 1, "data": {"values": []}, "mark": "point", "encoding": {}},
        {"width": 193.5, "height": 148, "view": {"stroke": "#7F7F7F", "strokeWidth": 1.5}, "data": {"name": "D_df"},
         "encoding": {
          "x": {"field": "x", "type": "quantitative", "scale": {"domain": [-0.05, 1.1], "nice": false, "zero": false}, "axis": {"title": null, "values": [0,0.1,0.2,0.3,0.4,0.5,0.6,0.7,0.8,0.9,1], "labelExpr": "round(datum.value*10)%2==0 ? format(datum.value,'.1f') : ''", "tickOpacity": {"condition": {"test": "round(datum.value*10)%2==0", "value": 1}, "value": 0}, "gridColor": {"condition": {"test": "round(datum.value*10)%2==0", "value": "#E5E5E5"}, "value": "#F3F3F3"}}},
          "y": {"field": "y", "type": "quantitative", "scale": {"domain": [0.132, 0.902], "nice": false, "zero": false}, "axis": {"title": null, "values": [0.2,0.3,0.4,0.5,0.6,0.7,0.8,0.9], "labels": false, "ticks": false, "gridColor": {"condition": {"test": "round(datum.value*10)%2==1", "value": "#E5E5E5"}, "value": "#F3F3F3"}}}
         },
         "layer": [
          {"transform": [{"filter": "datum.sel=='Minimum relevance'"}], "mark": {"type": "area", "opacity": 0.4, "interpolate": "monotone"}, "encoding": {"y": {"field": "lo", "type": "quantitative", "scale": {"domain": [0.132, 0.902], "nice": false, "zero": false}}, "y2": {"field": "hi"}, "fill": {"field": "sel", "type": "nominal", "scale": {"domain": ["Maximum length", "Minimum relevance"], "range": ["#999999", "#999999"]}}}},
          {"transform": [{"filter": "datum.sel=='Minimum relevance'"}], "mark": {"type": "line", "strokeWidth": 2.3, "interpolate": "monotone"}, "encoding": {"stroke": {"field": "sel", "type": "nominal", "title": "Sentence selector", "scale": {"domain": ["Minimum relevance", "Maximum length"], "range": ["#F8766D", "#00BFC4"]}}, "strokeDash": {"field": "sel", "type": "nominal", "title": "Sentence selector", "scale": {"domain": ["Minimum relevance", "Maximum length"], "range": [[1, 0], [4.5, 3]]}}}},
          {"transform": [{"filter": "datum.sel=='Maximum length'"}], "mark": {"type": "area", "opacity": 0.4, "interpolate": "monotone"}, "encoding": {"y": {"field": "lo", "type": "quantitative", "scale": {"domain": [0.132, 0.902], "nice": false, "zero": false}}, "y2": {"field": "hi"}, "fill": {"field": "sel", "type": "nominal", "scale": {"domain": ["Maximum length", "Minimum relevance"], "range": ["#999999", "#999999"]}}}},
          {"transform": [{"filter": "datum.sel=='Maximum length'"}], "mark": {"type": "line", "strokeWidth": 2.3, "interpolate": "monotone"}, "encoding": {"stroke": {"field": "sel", "type": "nominal", "title": "Sentence selector", "scale": {"domain": ["Minimum relevance", "Maximum length"], "range": ["#F8766D", "#00BFC4"]}}, "strokeDash": {"field": "sel", "type": "nominal", "title": "Sentence selector", "scale": {"domain": ["Minimum relevance", "Maximum length"], "range": [[1, 0], [4.5, 3]]}}}}
         ]},
        {"width": 1, "height": 1, "data": {"values": []}, "mark": "point", "encoding": {}},
        {"width": 193.5, "height": 148, "view": {"stroke": "#7F7F7F", "strokeWidth": 1.5}, "data": {"name": "D_ev"},
         "encoding": {
          "x": {"field": "x", "type": "quantitative", "scale": {"domain": [-0.05, 1.1], "nice": false, "zero": false}, "axis": {"title": null, "values": [0,0.1,0.2,0.3,0.4,0.5,0.6,0.7,0.8,0.9,1], "labelExpr": "round(datum.value*10)%2==0 ? format(datum.value,'.1f') : ''", "tickOpacity": {"condition": {"test": "round(datum.value*10)%2==0", "value": 1}, "value": 0}, "gridColor": {"condition": {"test": "round(datum.value*10)%2==0", "value": "#E5E5E5"}, "value": "#F3F3F3"}}},
          "y": {"field": "y", "type": "quantitative", "scale": {"domain": [0.132, 0.902], "nice": false, "zero": false}, "axis": {"title": null, "values": [0.2,0.3,0.4,0.5,0.6,0.7,0.8,0.9], "labels": false, "ticks": false, "gridColor": {"condition": {"test": "round(datum.value*10)%2==1", "value": "#E5E5E5"}, "value": "#F3F3F3"}}}
         },
         "layer": [
          {"transform": [{"filter": "datum.sel=='Minimum relevance'"}], "mark": {"type": "area", "opacity": 0.4, "interpolate": "monotone"}, "encoding": {"y": {"field": "lo", "type": "quantitative", "scale": {"domain": [0.132, 0.902], "nice": false, "zero": false}}, "y2": {"field": "hi"}, "fill": {"field": "sel", "type": "nominal", "scale": {"domain": ["Maximum length", "Minimum relevance"], "range": ["#999999", "#999999"]}}}},
          {"transform": [{"filter": "datum.sel=='Minimum relevance'"}], "mark": {"type": "line", "strokeWidth": 2.3, "interpolate": "monotone"}, "encoding": {"stroke": {"field": "sel", "type": "nominal", "title": "Sentence selector", "scale": {"domain": ["Minimum relevance", "Maximum length"], "range": ["#F8766D", "#00BFC4"]}}, "strokeDash": {"field": "sel", "type": "nominal", "title": "Sentence selector", "scale": {"domain": ["Minimum relevance", "Maximum length"], "range": [[1, 0], [4.5, 3]]}}}},
          {"transform": [{"filter": "datum.sel=='Maximum length'"}], "mark": {"type": "area", "opacity": 0.4, "interpolate": "monotone"}, "encoding": {"y": {"field": "lo", "type": "quantitative", "scale": {"domain": [0.132, 0.902], "nice": false, "zero": false}}, "y2": {"field": "hi"}, "fill": {"field": "sel", "type": "nominal", "scale": {"domain": ["Maximum length", "Minimum relevance"], "range": ["#999999", "#999999"]}}}},
          {"transform": [{"filter": "datum.sel=='Maximum length'"}], "mark": {"type": "line", "strokeWidth": 2.3, "interpolate": "monotone"}, "encoding": {"stroke": {"field": "sel", "type": "nominal", "title": "Sentence selector", "scale": {"domain": ["Minimum relevance", "Maximum length"], "range": ["#F8766D", "#00BFC4"]}}, "strokeDash": {"field": "sel", "type": "nominal", "title": "Sentence selector", "scale": {"domain": ["Minimum relevance", "Maximum length"], "range": [[1, 0], [4.5, 3]]}}}}
         ]},
        {"width": 1, "height": 1, "data": {"values": []}, "mark": "point", "encoding": {}},
        {"width": 193.5, "height": 148, "view": {"stroke": "#7F7F7F", "strokeWidth": 1.5}, "data": {"name": "D_tp"},
         "encoding": {
          "x": {"field": "x", "type": "quantitative", "scale": {"domain": [-0.05, 1.1], "nice": false, "zero": false}, "axis": {"title": null, "values": [0,0.1,0.2,0.3,0.4,0.5,0.6,0.7,0.8,0.9,1], "labelExpr": "round(datum.value*10)%2==0 ? format(datum.value,'.1f') : ''", "tickOpacity": {"condition": {"test": "round(datum.value*10)%2==0", "value": 1}, "value": 0}, "gridColor": {"condition": {"test": "round(datum.value*10)%2==0", "value": "#E5E5E5"}, "value": "#F3F3F3"}}},
          "y": {"field": "y", "type": "quantitative", "scale": {"domain": [0.132, 0.902], "nice": false, "zero": false}, "axis": {"title": null, "values": [0.2,0.3,0.4,0.5,0.6,0.7,0.8,0.9], "labels": false, "ticks": false, "gridColor": {"condition": {"test": "round(datum.value*10)%2==1", "value": "#E5E5E5"}, "value": "#F3F3F3"}}}
         },
         "layer": [
          {"transform": [{"filter": "datum.sel=='Minimum relevance'"}], "mark": {"type": "area", "opacity": 0.4, "interpolate": "monotone"}, "encoding": {"y": {"field": "lo", "type": "quantitative", "scale": {"domain": [0.132, 0.902], "nice": false, "zero": false}}, "y2": {"field": "hi"}, "fill": {"field": "sel", "type": "nominal", "scale": {"domain": ["Maximum length", "Minimum relevance"], "range": ["#999999", "#999999"]}}}},
          {"transform": [{"filter": "datum.sel=='Minimum relevance'"}], "mark": {"type": "line", "strokeWidth": 2.3, "interpolate": "monotone"}, "encoding": {"stroke": {"field": "sel", "type": "nominal", "title": "Sentence selector", "scale": {"domain": ["Minimum relevance", "Maximum length"], "range": ["#F8766D", "#00BFC4"]}}, "strokeDash": {"field": "sel", "type": "nominal", "title": "Sentence selector", "scale": {"domain": ["Minimum relevance", "Maximum length"], "range": [[1, 0], [4.5, 3]]}}}},
          {"transform": [{"filter": "datum.sel=='Maximum length'"}], "mark": {"type": "area", "opacity": 0.4, "interpolate": "monotone"}, "encoding": {"y": {"field": "lo", "type": "quantitative", "scale": {"domain": [0.132, 0.902], "nice": false, "zero": false}}, "y2": {"field": "hi"}, "fill": {"field": "sel", "type": "nominal", "scale": {"domain": ["Maximum length", "Minimum relevance"], "range": ["#999999", "#999999"]}}}},
          {"transform": [{"filter": "datum.sel=='Maximum length'"}], "mark": {"type": "line", "strokeWidth": 2.3, "interpolate": "monotone"}, "encoding": {"stroke": {"field": "sel", "type": "nominal", "title": "Sentence selector", "scale": {"domain": ["Minimum relevance", "Maximum length"], "range": ["#F8766D", "#00BFC4"]}}, "strokeDash": {"field": "sel", "type": "nominal", "title": "Sentence selector", "scale": {"domain": ["Minimum relevance", "Maximum length"], "range": [[1, 0], [4.5, 3]]}}}}
         ]},
        {"width": 31, "height": 148, "view": {"fill": "#CCCCCC", "stroke": "#7F7F7F", "strokeWidth": 1.5}, "data": {"values": [{"label": "Dev"}]},
         "mark": {"type": "text", "angle": 90, "baseline": "middle", "fontSize": 17.5}, "encoding": {"text": {"field": "label"}}}
      ]
    },
    {
      "hconcat": [
        {"width": 80, "height": 24, "data": {"values": []}, "mark": "point", "encoding": {}},
        {"width": 803.5, "height": 24, "data": {"values": [{"label": "1−Recall"}]},
         "mark": {"type": "text", "baseline": "middle", "fontSize": 21.5}, "encoding": {"text": {"field": "label"}}}
      ],
      "spacing": 0, "bounds": "flush"
    }
  ],
  "spacing": 20
}
